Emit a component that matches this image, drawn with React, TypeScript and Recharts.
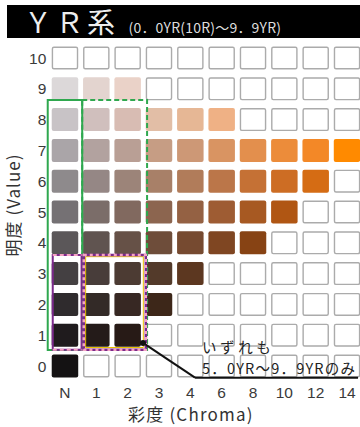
import React from "react";
import {
  ScatterChart, Scatter, XAxis, YAxis, ReferenceArea, ReferenceLine, ReferenceDot,
} from "recharts";

// chroma columns (x index) and value rows (y)
const chromaLabels = ["N", "1", "2", "3", "4", "6", "8", "10", "12", "14"];
const valueTicks = [0, 1, 2, 3, 4, 5, 6, 7, 8, 9, 10];

// colours of the filled chips in each value row, from N upward; missing = empty chip
const row10: string[] = [];
const row9 = ["#dcd8d9", "#e3d4cf", "#ead2c8"];
const row8 = ["#c8c3c6", "#d0bfbd", "#d8bcb3", "#e2bea6", "#e6b795", "#efb185"];
const row7 = ["#aaa5a8", "#b2a29f", "#b99f95", "#c69d84", "#cd9876", "#d99462", "#e38f4d", "#ec8c3a", "#f38827", "#ff8a00"];
const row6 = ["#8e8a8c", "#958785", "#9c8479", "#a88068", "#b17c5a", "#bb7649", "#c57135", "#cd6d24", "#d56c14"];
const row5 = ["#757174", "#7b6d69", "#81695f", "#8c654f", "#946143", "#9e5c33", "#a75922", "#b05613"];
const row4 = ["#5b5759", "#605450", "#665147", "#6e4d3a", "#764a30", "#7f4622", "#874314"];
const row3 = ["#444042", "#483d3a", "#4c3b33", "#533a2a", "#5c3720"];
const row2 = ["#2f2b2d", "#332a27", "#372823", "#3d2719"];
const row1 = ["#1f1b1d", "#241b19", "#271a16"];
const row0 = ["#141213"];

const rows = [row0, row1, row2, row3, row4, row5, row6, row7, row8, row9, row10];

const cells = rows.flatMap((row, v) =>
  chromaLabels.map((_, i) => ({ x: i, y: v, color: row[i] ?? null }))
);

const CW = 26.5;
const CH = 23;

const Chip = (p: any) => {
  const { cx, cy, payload } = p;
  if (cx == null || cy == null) return null;
  if (payload.color) {
    return <rect x={cx - CW / 2} y={cy - CH / 2} width={CW} height={CH} rx={2} fill={payload.color} />;
  }
  return (
    <rect
      x={cx - CW / 2 + 0.7} y={cy - CH / 2 + 0.7} width={CW - 1.4} height={CH - 1.4}
      rx={1.5} fill="#fff" stroke="#ababab" strokeWidth={1.4}
    />
  );
};

const tickStyle = { fontSize: 15.5, fill: "#3a3a3a", fontFamily: "'Liberation Sans', Arial, sans-serif" };
const jp = "'Noto Sans CJK JP', sans-serif";
const Z = 900;

export default function App() {
  return (
    <div style={{ position: "absolute", left: 0, top: 0, width: 360, height: 427, overflow: "hidden", background: "#fff" }}>
      <div style={{
        position: "absolute", left: 7, top: 5, width: 353, height: 33, background: "#000",
        color: "#eee", fontFamily: jp, display: "flex", alignItems: "baseline",
      }}>
        <span style={{ fontSize: 28, marginLeft: 17, letterSpacing: 3.5, lineHeight: "33px" }}>ＹＲ系</span>
        <span style={{ fontSize: 14, marginLeft: 10, color: "#ddd", letterSpacing: 0.2 }}>(0．0YR(10R)～9．9YR)</span>
      </div>

      <div style={{ position: "absolute", left: 0, top: 0 }}>
        <ScatterChart width={370} height={427} margin={{ top: 42.6, right: 7.3, bottom: 15.6, left: 0 }}>
          <XAxis
            type="number" dataKey="x" domain={[-0.5, 9.5]} ticks={[0, 1, 2, 3, 4, 5, 6, 7, 8, 9]}
            tickFormatter={(i: number) => chromaLabels[i]} interval={0}
            axisLine={false} tickLine={false} tickSize={4} height={30} tick={tickStyle}
          />
          <YAxis
            type="number" dataKey="y" domain={[-0.5, 10.5]} ticks={valueTicks} interval={0}
            axisLine={false} tickLine={false} tickSize={0} tickMargin={3} width={49.3} tick={tickStyle}
          />
          <Scatter data={cells} shape={Chip} isAnimationActive={false} />

          <ReferenceArea zIndex={Z} ifOverflow="visible" x1={-0.55} x2={0.55} y1={0.52} y2={8.64} fill="none" fillOpacity={0} stroke="#2fa84f" strokeWidth={2} />
          <ReferenceArea zIndex={Z} ifOverflow="visible" x1={0.55} x2={2.62} y1={0.52} y2={8.64} fill="none" fillOpacity={0} stroke="#2fa84f" strokeWidth={2} strokeDasharray="5 3" />

          <ReferenceArea zIndex={Z} ifOverflow="visible" x1={-0.39} x2={0.53} y1={0.53} y2={3.6} fill="none" fillOpacity={0} stroke="#7a2a8a" strokeWidth={2} />
          <ReferenceLine zIndex={Z} ifOverflow="visible" segment={[{ x: -0.39, y: 3.6 }, { x: 0.53, y: 3.6 }]} stroke="#f5a3c4" strokeWidth={2} strokeDasharray="4 3" />
          <ReferenceLine zIndex={Z} ifOverflow="visible" segment={[{ x: -0.39, y: 0.53 }, { x: 0.53, y: 0.53 }]} stroke="#f5a3c4" strokeWidth={2} strokeDasharray="4 3" />

          <ReferenceArea zIndex={Z} ifOverflow="visible" x1={0.66} x2={2.5} y1={0.6} y2={3.55} fill="none" fillOpacity={0} stroke="#e6c200" strokeWidth={1} />
          <ReferenceArea zIndex={Z} ifOverflow="visible" x1={0.6} x2={2.58} y1={0.53} y2={3.6} fill="none" fillOpacity={0} stroke="#7a2a8a" strokeWidth={2.5} />
          <ReferenceArea zIndex={Z} ifOverflow="visible" x1={0.6} x2={2.58} y1={0.53} y2={3.6} fill="none" fillOpacity={0} stroke="#f5a3c4" strokeWidth={2.5} strokeDasharray="3 3" />

          <ReferenceLine zIndex={Z} ifOverflow="visible" segment={[{ x: 2.49, y: 0.75 }, { x: 4.15, y: -0.38 }]} stroke="#111" strokeWidth={2} />
          <ReferenceLine zIndex={Z} ifOverflow="visible" segment={[{ x: 4.15, y: -0.38 }, { x: 9.35, y: -0.38 }]} stroke="#111" strokeWidth={2} />
          <ReferenceDot zIndex={Z} ifOverflow="visible" x={2.49} y={0.75} r={3} fill="#111" stroke="none" />
        </ScatterChart>
      </div>

      <div style={{ position: "absolute", left: 202, top: 335.7, fontFamily: jp, fontSize: 14.5, color: "#222", lineHeight: "21px", letterSpacing: 3.6, whiteSpace: "nowrap" }}>
        いずれも
      </div>
      <div style={{ position: "absolute", left: 202, top: 356.8, fontFamily: jp, fontSize: 14.5, color: "#222", lineHeight: "21px", letterSpacing: 1.2, whiteSpace: "nowrap" }}>
        5．0YR～9．9YRのみ
      </div>

      <div style={{
        position: "absolute", left: 13, top: 205, transform: "translate(-50%, -50%) rotate(-90deg)",
        fontFamily: jp, fontSize: 17, color: "#333", whiteSpace: "nowrap", letterSpacing: 1, lineHeight: "18px",
      }}>明度 (Value)</div>

      <div style={{ position: "absolute", left: 128, top: 404.5, fontFamily: jp, fontSize: 17, color: "#333", whiteSpace: "nowrap", letterSpacing: 1.2, lineHeight: "17px" }}>
        彩度 (Chroma)
      </div>
    </div>
  );
}
